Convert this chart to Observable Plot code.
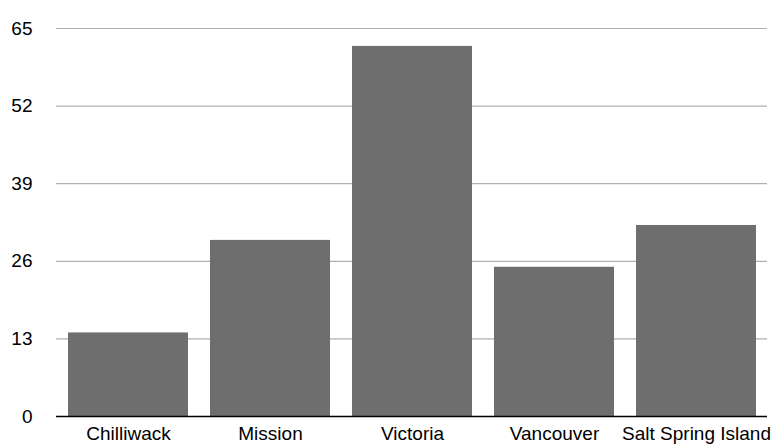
<!DOCTYPE html>
<html>
<head>
<meta charset="utf-8">
<script src="https://cdn.jsdelivr.net/npm/d3@7"></script>
<script src="https://cdn.jsdelivr.net/npm/@observablehq/plot@0.6"></script>
<style>
  html, body { margin: 0; padding: 0; background: #fff; }
</style>
</head>
<body>
<div id="chart"></div>
<script>
const categories = ["Chilliwack", "Mission", "Victoria", "Vancouver", "Salt Spring Island"];
const values = [14, 29.5, 62, 25, 32];
const yTicks = [0, 13, 26, 39, 52, 65];

const data = categories.map((c, i) => ({category: c, value: values[i]}));

const chart = Plot.plot({
  width: 776,
  height: 444,
  marginLeft: 56,
  marginRight: 9,
  marginTop: 28,
  marginBottom: 28,
  style: {
    fontFamily: "'Liberation Sans', Arial, Helvetica, sans-serif",
    fontSize: "19px",
    color: "#000",
    background: "#fff"
  },
  x: {domain: categories, paddingInner: 0.156, paddingOuter: 0.07, label: null},
  y: {domain: [0, 65], label: null},
  marks: [
    Plot.ruleY(yTicks.filter(d => d > 0), {stroke: "#b0b0b0", strokeWidth: 1.2}),
    Plot.barY(data, {x: "category", y: "value", fill: "#6e6e6e"}),
    Plot.ruleY([0], {stroke: "#000", strokeWidth: 1.5}),
    Plot.axisY({ticks: yTicks, tickSize: 0, tickPadding: 24, label: null}),
    Plot.axisX({tickSize: 0, tickPadding: 10, label: null})
  ]
});
document.getElementById("chart").appendChild(chart);
</script>
</body>
</html>
